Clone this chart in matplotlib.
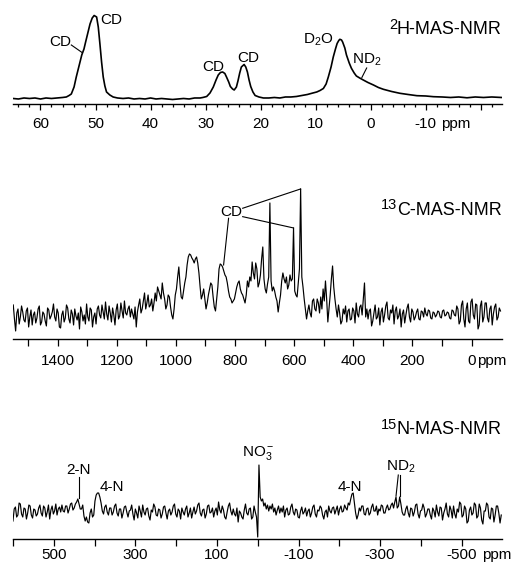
import numpy as np
import matplotlib
matplotlib.use("Agg")
import matplotlib.pyplot as plt

plt.rcParams["font.family"] = ["Liberation Sans", "DejaVu Sans"]
plt.rcParams["mathtext.fontset"] = "custom"
plt.rcParams["mathtext.rm"] = "Liberation Sans"
plt.rcParams["mathtext.it"] = "Liberation Sans:italic"
plt.rcParams["mathtext.bf"] = "Liberation Sans:bold"

# ---- 2H MAS NMR (ppm, intensity) ----
h2_ppm = [65, 64, 63, 62, 61, 60, 59, 58, 57, 56, 55.3, 54.8, 54.4, 53.9, 53.5, 53.0,
          52.5, 52.1, 51.8, 51.4, 51.0, 50.6, 50.25, 49.8, 49.5, 49.2, 48.9, 48.6, 48.3,
          48.0, 47.4, 46.8, 46, 45, 44, 43, 42, 41, 40, 39, 38, 37, 36, 35, 34, 33, 32,
          31, 30.5, 29.8, 29.2, 28.6, 28.1, 27.7, 27.3, 26.9, 26.5, 26.2, 25.8, 25.5,
          25.1, 24.8, 24.4, 24.1, 23.8, 23.5, 23.0, 22.7, 22.4, 22.1, 21.8, 21.4, 21.0,
          20.3, 19.5, 18.5, 17.5, 16.5, 15.5, 14.5, 13.5, 12.5, 11.5, 10.5, 9.8, 9.2,
          8.6, 8.1, 7.7, 7.2, 6.8, 6.4, 6.1, 5.8, 5.6, 5.3, 5.1, 4.7, 4.4, 3.9, 3.5,
          3.0, 2.6, 2.0, 1.35, 0.5, -0.5, -1.4, -2.3, -3.8, -5.3, -6.8, -8.4, -10,
          -11.4, -13, -14.5, -16, -17.5, -19, -20.5, -22, -23.8]
h2_int = [5.5, 5, 6, 5.5, 6, 5, 6, 5.5, 6, 6.5, 7, 8.5, 10, 17, 27, 38,
          49, 55, 62, 71, 80, 86, 88.5, 87, 77, 60, 42, 27, 18,
          12, 9, 7, 6, 5.5, 6, 5, 5.5, 5, 6, 5, 5.5, 5, 4.5, 5, 5.5, 5, 6,
          6, 6.5, 7.5, 11, 17, 24, 29, 31.5, 32, 30.5, 27, 22, 17.5,
          15, 14, 17, 23.5, 31, 37, 39.5, 37, 32, 24, 17.5, 12, 8.5,
          7, 6, 6, 6.5, 6, 7, 7, 7.5, 8.5, 9.5, 11, 12, 13.5,
          15.5, 20, 27, 37, 47, 55, 60.5, 63.5, 64.7, 64, 62, 56, 49, 41, 35.7,
          31, 28, 26, 24, 21.5, 19, 16.5, 14.7, 12.5, 10.7, 9.5, 8.3, 8,
          7.3, 7, 6.5, 7, 6.2, 7, 6.5, 7, 6.5]

# ---- 13C MAS NMR, one point every 4 ppm from 1550 ppm ----
c13_start = 1550
c13_step = 4
c13_int = [
    34, 20, 8, 26, 30, 15, 22, 33, 27, 19, 17, 28, 31, 12, 22, 29, 14, 24, 27, 16,      # 1550
    21, 30, 33, 14, 17, 27, 25, 18, 13, 31, 29, 20, 23, 27, 35, 22, 18, 30, 26, 12,     # 1470
    11, 24, 28, 17, 21, 34, 31, 20, 16, 29, 25, 14, 30, 23, 19, 26, 10, 32, 27, 18,     # 1390
    24, 15, 35, 22, 18, 31, 29, 12, 22, 26, 15, 30, 33, 24, 21, 34, 27, 20, 37, 25,     # 1310
    19, 33, 26, 17, 31, 24, 14, 29, 35, 20, 23, 36, 28, 21, 38, 26, 24, 30, 33, 22,     # 1230
    30, 25, 20, 32, 12, 27, 34, 40, 26, 30, 38, 46, 30, 36, 44, 32, 34, 40, 28, 36,     # 1150
    46, 38, 52, 48, 44, 40, 56, 46, 40, 30, 34, 44, 42, 32, 24, 20, 30, 44, 50, 62,     # 1070
    72, 55, 42, 40, 48, 56, 62, 74, 82, 85, 84, 81, 79, 76, 80, 82, 76, 66, 52, 40,     # 990
    44, 50, 40, 30, 36, 44, 50, 56, 54, 42, 32, 28, 40, 52, 70, 75, 74, 72, 68, 64,     # 910
    62, 56, 48, 42, 40, 36, 38, 40, 46, 52, 56, 58, 50, 46, 44, 40, 36, 44, 58, 52,     # 830
    62, 58, 77, 66, 60, 76, 70, 52, 56, 64, 80, 92, 60, 50, 46, 55, 62, 136, 58, 48,    # 750
    52, 48, 42, 38, 27, 36, 44, 58, 66, 60, 56, 62, 50, 54, 64, 58, 60, 111, 48, 44,    # 670
    42, 56, 70, 150, 62, 52, 40, 30, 20, 28, 34, 26, 22, 38, 40, 30, 28, 40, 36, 26,    # 590
    42, 30, 50, 38, 58, 40, 17, 30, 44, 60, 73, 52, 40, 30, 22, 34, 26, 15, 18, 30,     # 510
    25, 33, 17, 28, 30, 19, 20, 31, 28, 16, 36, 25, 22, 32, 34, 24, 40, 56, 22, 30,     # 430
    20, 28, 30, 13, 18, 26, 34, 20, 22, 31, 14, 27, 31, 17, 24, 33, 37, 21, 19, 29,     # 350
    26, 34, 15, 28, 32, 20, 23, 30, 12, 25, 29, 16, 24, 31, 35, 22, 17, 30, 27, 19,     # 270
    22, 27, 30, 20, 19, 28, 27, 22, 31, 25, 23, 29, 28, 21, 20, 27, 26, 22, 24, 28,     # 190
    27, 22, 21, 28, 29, 23, 24, 27, 26, 21, 20, 29, 28, 24, 23, 33, 30, 15, 18, 34,     # 110
    38, 20, 12, 30, 36, 18, 16, 37, 40, 24, 20, 35, 34, 10, 14, 33, 38, 17, 22, 36,     # 30
    36, 21, 17, 30, 33, 14, 25, 32, 35, 19, 22, 31, 28,                                 # -50
]

# ---- 15N MAS NMR, one point every 3 ppm from 600 ppm ----
n15_start = 600
n15_step = 3
n15_int = [
    18, 30, 32, 22, 24, 36, 35, 25, 22, 31, 30, 20, 26, 34, 33, 24, 21, 30, 29, 23,     # 600
    25, 31, 34, 26, 23, 33, 31, 22, 27, 34, 20, 29, 33, 25, 28, 35, 24, 30, 32, 27,     # 540
    34, 28, 27, 33, 33, 26, 30, 35, 36, 29, 31, 35, 37, 40, 35, 30, 30, 34, 23, 18,     # 480
    22, 17, 16, 26, 30, 22, 24, 38, 44, 46, 46, 42, 36, 28, 25, 32, 34, 27, 24, 31,     # 420
    31, 24, 27, 33, 35, 26, 23, 30, 30, 21, 26, 32, 33, 27, 22, 28, 29, 34, 25, 19,     # 360
    30, 26, 21, 33, 28, 22, 34, 27, 24, 30, 31, 23, 19, 29, 27, 35, 32, 24, 23, 30,     # 300
    29, 21, 25, 32, 33, 26, 20, 28, 30, 24, 27, 33, 35, 25, 22, 30, 28, 20, 31, 27,     # 240
    24, 30, 33, 22, 26, 31, 21, 27, 32, 25, 28, 34, 36, 26, 23, 29, 30, 21, 25, 33,     # 180
    34, 26, 27, 31, 22, 28, 31, 24, 37, 29, 26, 33, 29, 22, 20, 27, 33, 36, 28, 24,     # 120
    30, 25, 23, 31, 17, 28, 26, 22, 20, 29, 35, 26, 24, 30, 31, 20, 22, 33, 27, 22,     # 60
    2, 74, 42, 38, 40, 33, 36, 30, 34, 28, 33, 30, 35, 27, 31, 24, 29, 33, 26, 31,      # 0
    27, 33, 22, 29, 31, 24, 25, 32, 35, 27, 24, 30, 29, 22, 21, 28, 32, 25, 27, 31,     # -60
    23, 28, 30, 22, 26, 32, 34, 25, 22, 29, 28, 33, 31, 24, 20, 27, 29, 22, 33, 28,     # -120
    26, 31, 32, 25, 29, 33, 24, 30, 33, 27, 28, 34, 31, 29, 36, 34, 40, 45, 46, 36,     # -180
    26, 20, 24, 31, 28, 33, 33, 25, 24, 30, 31, 24, 26, 32, 35, 28, 28, 33, 24, 30,     # -240
    28, 34, 33, 26, 26, 31, 34, 29, 30, 34, 36, 31, 37, 42, 31, 33, 42, 35, 27, 24,     # -300
    24, 30, 33, 26, 22, 31, 30, 23, 27, 34, 35, 25, 21, 28, 29, 35, 31, 22, 25, 30,     # -360
    30, 24, 20, 31, 28, 22, 34, 27, 23, 32, 31, 19, 26, 30, 36, 25, 22, 33, 29, 21,     # -420
    33, 25, 21, 30, 27, 37, 35, 22, 24, 33, 30, 16, 18, 29, 32, 24, 26, 36, 34, 21,     # -480
    23, 35, 31, 19, 15, 28, 28, 36, 34, 22, 20, 31, 30, 17, 24, 33, 33, 26, 16, 24,     # -540
]

c13_ppm = c13_start - c13_step * np.arange(len(c13_int))
n15_ppm = n15_start - n15_step * np.arange(len(n15_int))

FS = 11
fig = plt.figure(figsize=(5.19, 5.63), dpi=100)
ax1 = fig.add_axes([0.025, 0.8153, 0.9416, 0.1847])
ax2 = fig.add_axes([0.025, 0.3979, 0.9416, 0.318])
ax3 = fig.add_axes([0.025, 0.0426, 0.9416, 0.2469])


def style_axis(ax, major_len, pad):
    for s in ["top", "left", "right"]:
        ax.spines[s].set_visible(False)
    ax.spines["bottom"].set_linewidth(1.0)
    ax.set_yticks([])
    ax.tick_params(axis="x", which="major", direction="out", length=major_len,
                   width=0.9, labelsize=FS, pad=pad)
    ax.tick_params(axis="x", which="minor", direction="out", length=2.4, width=0.9)
    ax.patch.set_visible(False)


def ppm_unit(ax, tick, dx, pad):
    ax.annotate("ppm", xy=(tick, 0), xycoords=ax.get_xaxis_transform(),
                xytext=(dx, -pad), textcoords="offset points",
                ha="left", va="top", fontsize=FS)


def panel_title(ax, iso, rest, y):
    # big raised isotope number in front of the nucleus name
    main = ax.text(1.0, y, rest, transform=ax.get_yaxis_transform(),
                   ha="right", va="baseline", fontsize=13)
    ax.annotate(iso, xy=(0, 0), xycoords=main, xytext=(0.4, 7.0),
                textcoords="offset points", ha="right", va="baseline", fontsize=10.5)


# top: 2H
ax1.plot(h2_ppm, h2_int, color="black", lw=1.2)
ax1.set_xlim(65, -23.8)
ax1.set_ylim(0, 104)
style_axis(ax1, 4.1, 5.0)
ax1.set_xticks([60, 50, 40, 30, 20, 10, 0, -10, -20])
ax1.set_xticklabels(["60", "50", "40", "30", "20", "10", "0", "-10", ""])
ax1.set_xticks(np.arange(64, -24, -2), minor=True)
ppm_unit(ax1, -10, 11, 9.1)
panel_title(ax1, "2", "H-MAS-NMR", 69.7)
ax1.text(47.2, 84, "CD", ha="center", va="center", fontsize=FS)
ax1.text(56.5, 62, "CD", ha="center", va="center", fontsize=FS)
ax1.plot([54.4, 52.4], [59, 51.3], color="black", lw=0.8)
ax1.text(28.6, 37.3, "CD", ha="center", va="center", fontsize=FS)
ax1.text(22.3, 45.7, "CD", ha="center", va="center", fontsize=FS)
ax1.text(9.6, 64, r"D$\mathregular{_2}$O", ha="center", va="center", fontsize=FS)
ax1.text(0.7, 44, r"ND$\mathregular{_2}$", ha="center", va="center", fontsize=FS)
ax1.plot([0.73, 1.6], [36, 26.5], color="black", lw=0.8)

# middle: 13C
ax2.plot(c13_ppm, c13_int, color="black", lw=0.85)
ax2.set_xlim(1551, -102)
ax2.set_ylim(0, 179)
style_axis(ax2, 5.0, 6.0)
ax2.set_xticks(np.arange(1500, -1, -100))
ax2.set_xticklabels(["" if v % 200 else str(v) for v in range(1500, -1, -100)])
ppm_unit(ax2, 0, 4, 11.0)
panel_title(ax2, "13", "C-MAS-NMR", 124)
ax2.text(813.6, 127, "CD", ha="center", va="center", fontsize=FS)
ax2.plot([774, 578], [130.7, 150], color="black", lw=0.8)
ax2.plot([774, 602], [122.3, 111], color="black", lw=0.8)
ax2.plot([821.7, 838.6], [120.7, 74], color="black", lw=0.8)

# bottom: 15N
ax3.plot(n15_ppm, n15_int, color="black", lw=0.85)
ax3.set_xlim(600, -598)
ax3.set_ylim(0, 139)
style_axis(ax3, 5.3, 1.2)
ax3.set_xticks(np.arange(600, -501, -100))
ax3.set_xticklabels([str(v) if v % 200 else "" for v in range(600, -501, -100)])
ppm_unit(ax3, -500, 14.5, 6.5)
panel_title(ax3, "15", "N-MAS-NMR", 104.7)
ax3.text(439.7, 69, "2-N", ha="center", va="center", fontsize=FS)
ax3.plot([439, 439], [61.7, 40.7], color="black", lw=0.8)
ax3.text(357.8, 52.3, "4-N", ha="center", va="center", fontsize=FS)
ax3.text(-1.5, 85.7, r"NO$\mathregular{_3^-}$", ha="center", va="center", fontsize=FS)
ax3.text(-226, 52.3, "4-N", ha="center", va="center", fontsize=FS)
ax3.text(-351, 72.3, r"ND$\mathregular{_2}$", ha="center", va="center", fontsize=FS)
ax3.plot([-344.6, -339], [64, 43], color="black", lw=0.8)
ax3.plot([-348.8, -348.8], [64, 43], color="black", lw=0.8)

fig.savefig("out.png", dpi=100)
